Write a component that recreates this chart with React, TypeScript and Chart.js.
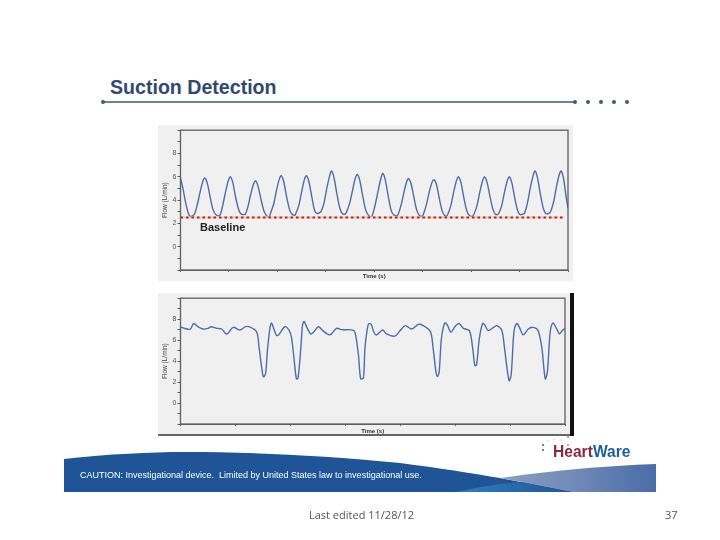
import { useEffect, useRef } from "react"
import { Chart, registerables } from "chart.js"

Chart.register(...registerables)

const yTickLabels = [0, 2, 4, 6, 8]
const baselineFlow = 2.5
const baselineTimes = [0, 7.92]

// top trace: normal pulsatile flow
const normalTimes = [
  0, 0.05, 0.11, 0.16, 0.2, 0.25,
  0.29, 0.34, 0.4, 0.46, 0.5, 0.55, 0.61, 0.67, 0.72, 0.78,
  0.82, 0.87, 0.93, 0.99, 1.03, 1.08, 1.14, 1.2, 1.25, 1.31,
  1.34, 1.39, 1.45, 1.51, 1.55, 1.6, 1.66, 1.72, 1.77, 1.83,
  1.86, 1.92, 1.98, 2.04, 2.08, 2.13, 2.19, 2.25, 2.3, 2.36,
  2.38, 2.44, 2.5, 2.56, 2.6, 2.65, 2.71, 2.77, 2.82, 2.88,
  2.9, 2.96, 3.02, 3.08, 3.12, 3.17, 3.23, 3.29, 3.34, 3.4,
  3.43, 3.49, 3.55, 3.61, 3.65, 3.7, 3.76, 3.82, 3.87, 3.93,
  3.96, 4.02, 4.08, 4.14, 4.18, 4.23, 4.29, 4.35, 4.4, 4.46,
  4.49, 4.55, 4.61, 4.67, 4.71, 4.76, 4.82, 4.88, 4.93, 4.98,
  5.01, 5.07, 5.13, 5.19, 5.23, 5.28, 5.34, 5.4, 5.45, 5.49,
  5.52, 5.58, 5.64, 5.7, 5.74, 5.79, 5.85, 5.91, 5.96, 6.02,
  6.06, 6.12, 6.18, 6.24, 6.28, 6.33, 6.39, 6.45, 6.5, 6.54,
  6.57, 6.63, 6.69, 6.75, 6.79, 6.84, 6.9, 6.96, 7.01, 7.07,
  7.1, 7.16, 7.22, 7.28, 7.32, 7.37, 7.43, 7.49, 7.54, 7.6,
  7.64, 7.7, 7.76, 7.82, 7.86, 7.91, 7.96, 8,
]
const normalFlows = [
  5.9, 5.0, 3.7, 2.9, 2.6, 2.65,
  2.8, 3.5, 4.6, 5.6, 5.9, 5.5, 4.3, 3.2, 2.8, 2.65,
  2.75, 3.5, 4.7, 5.7, 6.0, 5.5, 4.2, 3.2, 2.8, 2.75,
  2.8, 3.4, 4.5, 5.4, 5.65, 5.2, 4.1, 3.1, 2.7, 2.55,
  2.9, 3.6, 4.8, 5.8, 6.1, 5.6, 4.3, 3.2, 2.8, 2.7,
  2.85, 3.5, 4.7, 5.8, 6.1, 5.6, 4.3, 3.1, 2.85, 2.95,
  3.0, 3.7, 5.0, 6.1, 6.5, 5.9, 4.5, 3.3, 2.85, 2.8,
  3.0, 3.7, 4.8, 5.9, 6.2, 5.7, 4.4, 3.2, 2.75, 2.55,
  2.7, 3.6, 4.8, 5.9, 6.3, 5.7, 4.3, 3.1, 2.75, 2.65,
  2.75, 3.5, 4.6, 5.6, 5.85, 5.4, 4.2, 3.1, 2.7, 2.6,
  2.75, 3.5, 4.6, 5.5, 5.75, 5.4, 4.2, 3.1, 2.7, 2.6,
  2.8, 3.5, 4.7, 5.7, 6.0, 5.5, 4.2, 3.1, 2.7, 2.6,
  2.8, 3.5, 4.7, 5.7, 6.0, 5.5, 4.3, 3.2, 2.8, 2.75,
  2.85, 3.5, 4.7, 5.7, 6.0, 5.5, 4.2, 3.1, 2.75, 2.8,
  2.85, 3.7, 5.0, 6.1, 6.5, 5.9, 4.5, 3.3, 2.85, 2.85,
  3.0, 3.8, 5.1, 6.2, 6.5, 5.8, 4.3, 3.3,
]

// bottom trace: flow with suction events
const suctionTimes = [
  0, 0.11, 0.18, 0.24, 0.32, 0.41, 0.5, 0.56, 0.66, 0.75, 0.83, 0.87, 0.96, 1.08, 1.2,
  1.35, 1.4, 1.43, 1.48, 1.51, 1.55, 1.58, 1.63, 1.66, 1.7, 1.75, 1.8, 1.9, 1.98,
  2.02, 2.06, 2.11, 2.14, 2.19, 2.22, 2.25, 2.3, 2.37, 2.42, 2.51, 2.59, 2.72, 2.84, 2.93,
  3.15, 3.19, 3.24, 3.28, 3.33, 3.36, 3.42, 3.47, 3.52, 3.57, 3.68, 3.75, 3.9, 4.0, 4.09,
  4.21, 4.33, 4.42, 4.55, 4.6, 4.65, 4.68, 4.71, 4.75, 4.81, 4.86, 4.92, 5.0, 5.07, 5.15,
  5.26, 5.32, 5.36, 5.39, 5.44, 5.5, 5.54, 5.6, 5.7, 5.76, 5.85, 5.9, 5.98, 6.02, 6.07,
  6.12, 6.17, 6.24, 6.33, 6.42, 6.51, 6.58, 6.64, 6.68, 6.73, 6.78, 6.85, 6.9, 6.95, 7,
]
const suctionFlows = [
  7.25, 7.06, 7.06, 7.59, 7.28, 7.06, 7.12, 7.28, 7.12, 7.06, 6.59, 6.69, 7.22, 6.97, 7.31,
  7.0, 6.59, 5.34, 3.31, 2.5, 2.84, 4.88, 7.22, 7.63, 7.06, 6.44, 6.59, 7.28, 6.91,
  6.28, 4.56, 2.31, 2.38, 5.19, 7.38, 7.78, 7.22, 6.59, 6.75, 7.28, 6.91, 6.5, 7.12, 7.0,
  6.94, 6.44, 4.56, 2.31, 2.4, 5.34, 7.53, 7.53, 6.75, 6.5, 6.97, 6.59, 6.38, 6.91, 7.38,
  7.06, 7.5, 7.38, 6.81, 5.19, 3.0, 2.53, 3.0, 6.13, 7.63, 7.44, 6.75, 7.31, 7.59, 7.12,
  6.91, 5.19, 3.56, 3.63, 6.13, 7.59, 7.44, 6.91, 7.22, 7.38, 6.91, 5.19, 2.13, 2.69, 6.75,
  7.59, 7.22, 6.5, 7.06, 7.22, 6.91, 5.19, 2.31, 3.0, 6.75, 7.63, 7.06, 6.59, 6.91, 7.12,
]

const traceColor = "#4b6ea8"
const axisColor = "#5c5f63"
const font = '"Liberation Sans", Arial, sans-serif'

const plotFrame = {
  id: "plotFrame",
  afterDraw(chart: Chart) {
    const { ctx, chartArea } = chart
    ctx.save()
    ctx.strokeStyle = axisColor
    ctx.lineWidth = 1.3
    ctx.strokeRect(
      chartArea.left,
      chartArea.top,
      chartArea.right - chartArea.left,
      chartArea.bottom - chartArea.top
    )
    ctx.restore()
  },
}

type TraceChartProps = {
  times: number[]
  flows: number[]
  maxTime: number
  showBaseline?: boolean
  left: number
  top: number
  width: number
  height: number
  axisWidth: number
  axisHeight: number
  padTop: number
  padRight: number
}

function TraceChart({
  times,
  flows,
  maxTime,
  showBaseline = false,
  left,
  top,
  width,
  height,
  axisWidth,
  axisHeight,
  padTop,
  padRight,
}: TraceChartProps) {
  const canvasRef = useRef<HTMLCanvasElement>(null)

  useEffect(() => {
    if (!canvasRef.current) return
    const baselinePoints = baselineTimes.map((x) => ({ x, y: baselineFlow }))
    const datasets: any[] = []
    if (showBaseline) {
      // first dataset is painted last, so the red dots go before the pale band
      datasets.push({
        data: baselinePoints,
        borderColor: "#b5271f",
        borderWidth: 2,
        borderDash: [2.5, 3],
        pointRadius: 0,
      })
      datasets.push({
        data: baselinePoints,
        borderColor: "#f5c9b4",
        borderWidth: 2,
        pointRadius: 0,
      })
    }
    datasets.push({
      data: times.map((x, i) => ({ x, y: flows[i] })),
      borderColor: traceColor,
      borderWidth: 1.4,
      tension: 0.3,
      pointRadius: 0,
    })

    const chart = new Chart(canvasRef.current, {
      type: "line",
      data: { datasets },
      plugins: [plotFrame],
      options: {
        animation: false,
        responsive: false,
        layout: { padding: { top: padTop, right: padRight, left: 3 } },
        plugins: { legend: { display: false }, tooltip: { enabled: false } },
        scales: {
          x: {
            type: "linear",
            min: 0,
            max: maxTime,
            afterFit: (scale: any) => {
              scale.height = axisHeight
            },
            grid: { drawOnChartArea: false, tickLength: 2, color: axisColor },
            border: { color: axisColor },
            ticks: { stepSize: 1, display: false },
            title: {
              display: true,
              text: "Time (s)",
              color: "#333",
              padding: 1,
              font: { family: font, size: 6, weight: "bold" },
            },
          },
          y: {
            min: -2,
            max: 10,
            afterFit: (scale: any) => {
              scale.width = axisWidth
            },
            grid: { drawOnChartArea: false, tickLength: 3, color: axisColor },
            border: { color: axisColor },
            ticks: {
              stepSize: 1,
              padding: 1,
              color: "#555",
              autoSkip: false,
              maxRotation: 0,
              font: { family: font, size: 7 },
              callback: (value: any) =>
                yTickLabels.includes(value) ? String(value) : "",
            },
            title: {
              display: true,
              text: "Flow (L/min)",
              color: "#444",
              padding: 0,
              font: { family: font, size: 6.5 },
            },
          },
        },
      },
    })

    return () => {
      chart.destroy()
    }
  }, [])

  return (
    <canvas
      ref={canvasRef}
      width={width}
      height={height}
      style={{ position: "absolute", left, top, width, height, background: "#f0f0f0" }}
    />
  )
}

function Footer() {
  return (
    <svg
      width={720}
      height={540}
      style={{ position: "absolute", left: 0, top: 0 }}
    >
      <defs>
        <linearGradient id="wedge" x1="0" x2="1" y1="0" y2="0">
          <stop offset="0" stopColor="#8c9fc2" />
          <stop offset="0.5" stopColor="#6f88b6" />
          <stop offset="1" stopColor="#4a6ca8" />
        </linearGradient>
        <linearGradient id="stripe" x1="0" x2="1" y1="0" y2="0">
          <stop offset="0" stopColor="#2f7fc0" />
          <stop offset="1" stopColor="#1f5496" />
        </linearGradient>
      </defs>
      <path
        d="M64 459 C110 454 150 452 185 452 C250 452 320 455 400 463 C440 468 470 473 500 478 L573 492 L64 492 Z"
        fill="#1f5496"
      />
      <path
        d="M500 478 C550 471 600 466 656 464 L656 492 L573 492 Z"
        fill="url(#wedge)"
      />
      <path d="M457 492 C475 488 495 484 522 482 L573 492 Z" fill="url(#stripe)" />
      <circle cx={543} cy={445} r={0.9} fill="#444" />
      <circle cx={543} cy={450} r={0.9} fill="#444" />
      <circle cx={548} cy={441} r={0.6} fill="#999" />
      <circle cx={554} cy={439} r={0.6} fill="#999" />
      <circle cx={561} cy={440} r={0.6} fill="#999" />
      <circle cx={568} cy={437} r={0.8} fill="#8c2a3a" />
      <circle cx={568} cy={445} r={0.8} fill="#8c2a3a" />
    </svg>
  )
}

const text = (
  left: number,
  top: number,
  size: number,
  color: string,
  weight: number | string = "normal"
): React.CSSProperties => ({
  position: "absolute",
  left,
  top,
  fontSize: size,
  color,
  fontWeight: weight,
  fontFamily: font,
  lineHeight: 1,
  whiteSpace: "pre",
})

export default function App() {
  return (
    <div style={{ position: "fixed", left: 0, top: 0, width: 720, height: 540, background: "#fff", overflow: "hidden" }}>
      <div style={text(110, 78, 19.6, "#30496f", "bold")}>Suction Detection</div>
      <div style={{ position: "absolute", left: 103, top: 101, width: 472, height: 2, background: "#6d8296" }} />
      {[103, 575, 588, 601, 614, 627].map((x) => (
        <div
          key={x}
          style={{ position: "absolute", left: x - 2, top: 100, width: 4, height: 4, borderRadius: 2, background: "#3f5a78" }}
        />
      ))}

      <TraceChart
        times={normalTimes}
        flows={normalFlows}
        maxTime={8}
        showBaseline
        left={158}
        top={125}
        width={415}
        height={156}
        axisWidth={19.5}
        axisHeight={11}
        padTop={3.7}
        padRight={5}
      />
      <div style={text(200, 222, 11, "#222", "bold")}>Baseline</div>

      <TraceChart
        times={suctionTimes}
        flows={suctionFlows}
        maxTime={7}
        left={158}
        top={293}
        width={412}
        height={143}
        axisWidth={19.5}
        axisHeight={12}
        padTop={3.7}
        padRight={5}
      />
      <div style={{ position: "absolute", left: 158, top: 434, width: 415, height: 2, background: "#666" }} />
      <div style={{ position: "absolute", left: 570, top: 293, width: 3.5, height: 143, background: "#111" }} />

      <Footer />
      <div style={text(80, 470.5, 9, "#fff")}>
        CAUTION: Investigational device.  Limited by United States law to investigational use.
      </div>
      <div style={text(553, 444, 15.6, "#8a2a40", "bold")}>
        Heart<span style={{ color: "#1f5ea0" }}>Ware</span>
      </div>
      <div style={{ ...text(309, 509, 11, "#555"), fontFamily: '"Open Sans", sans-serif' }}>Last edited 11/28/12</div>
      <div style={{ ...text(665, 509, 11, "#555"), fontFamily: '"Open Sans", sans-serif' }}>37</div>
    </div>
  )
}
